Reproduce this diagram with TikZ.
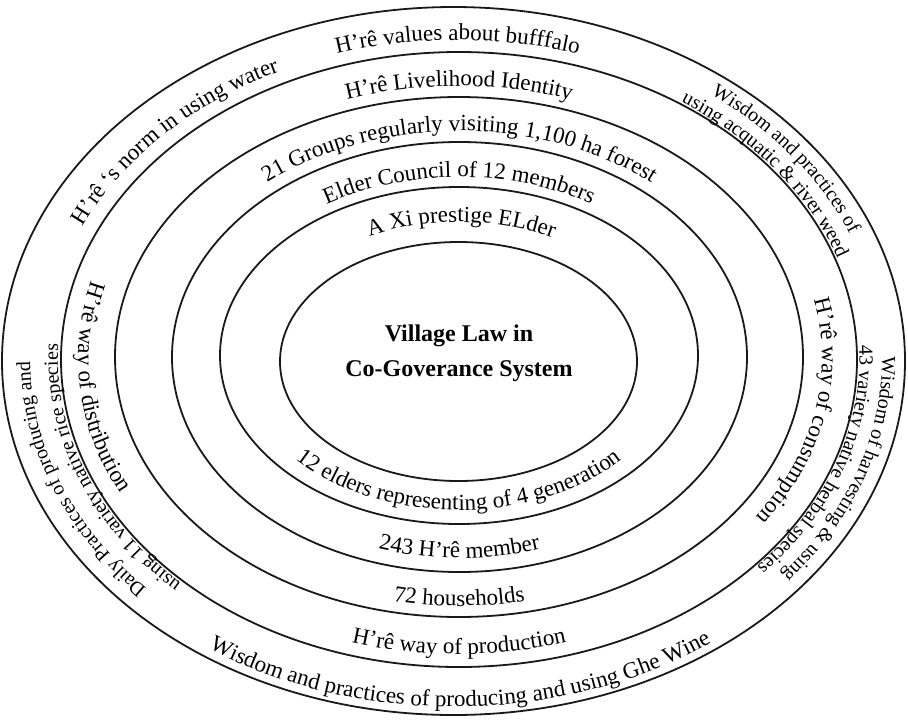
\documentclass[tikz,border=0pt]{standalone}
\usepackage{fontspec}
\setmainfont{Liberation Serif}
\usetikzlibrary{decorations.text}
\newcommand\bandfont{\fontsize{23}{27}\selectfont}
\newcommand\twofont{\fontsize{20}{22}\selectfont}
\tikzset{
  ring/.style={draw=black!90,line width=1.8pt},
  bandtext/.style={decorate,decoration={text along path,text align=center,
                   text={|\bandfont|#1}}},
  twotext/.style={decorate,decoration={text along path,text align=center,
                  text={|\twofont|#1}}},
  core/.style={align=center,inner sep=0pt,font=\fontsize{24}{35}\selectfont\bfseries},
}
\begin{document}
\begin{tikzpicture}[x=1pt,y=1pt]
  \useasboundingbox (0,0) rectangle (908,-724);
  % rings
  \draw[ring] (458.5,-361.5) ellipse[x radius=178.5pt,y radius=119.5pt];
  \draw[ring] (459,-355.5) ellipse[x radius=239pt,y radius=168.5pt];
  \draw[ring] (459.5,-357) ellipse[x radius=287.5pt,y radius=215pt];
  \draw[ring] (459,-357) ellipse[x radius=344pt,y radius=260pt];
  \draw[ring] (459,-359.5) ellipse[x radius=398pt,y radius=307.5pt];
  \draw[ring] (453.5,-361) ellipse[x radius=451.5pt,y radius=354pt];
  \node[core] (law) at (459,-353) {Village Law in\\Co-Goverance System};
  % top of the bands
  \path[bandtext={H’rê values about bufffalo}]
    ([shift={(130:412.3pt and 319.9pt)}]457.5,-359.9)
    arc[start angle=130,end angle=50,x radius=412.3pt,y radius=319.9pt];
  \path[bandtext={H’rê Livelihood Identity}]
    ([shift={(130:357.2pt and 271.6pt)}]459,-357.6)
    arc[start angle=130,end angle=50,x radius=357.2pt,y radius=271.6pt];
  \path[bandtext={21 Groups regularly visiting 1,100 ha forest}]
    ([shift={(155:301.3pt and 226pt)}]459.4,-357)
    arc[start angle=155,end angle=25,x radius=301.3pt,y radius=226pt];
  \path[bandtext={Elder Council of 12 members}]
    ([shift={(150:249.8pt and 178.8pt)}]459.1,-355.8)
    arc[start angle=150,end angle=30,x radius=249.8pt,y radius=178.8pt];
  \path[bandtext={A Xi prestige ELder}]
    ([shift={(150:200.5pt and 137.3pt)}]458.7,-359.3)
    arc[start angle=150,end angle=28,x radius=200.5pt,y radius=137.3pt];
  % bottom of the bands
  \path[bandtext={12 elders representing of 4 generation}]
    ([shift={(185:219.3pt and 152.5pt)}]458.8,-357.5)
    arc[start angle=185,end angle=355,x radius=219.3pt,y radius=152.5pt];
  \path[bandtext={243 H’rê member}]
    ([shift={(220:273.3pt and 201.4pt)}]459.4,-356.6)
    arc[start angle=220,end angle=320,x radius=273.3pt,y radius=201.4pt];
  \path[bandtext={72 households}]
    ([shift={(230:330.2pt and 249pt)}]459.2,-357)
    arc[start angle=230,end angle=310,x radius=330.2pt,y radius=249pt];
  \path[bandtext={H’rê way of production}]
    ([shift={(230:384pt and 295.2pt)}]459,-358.9)
    arc[start angle=230,end angle=310,x radius=384pt,y radius=295.2pt];
  \path[bandtext={Wisdom and practices of producing and using Ghe Wine}]
    ([shift={(215:442.6pt and 346.2pt)}]454.4,-360.7)
    arc[start angle=215,end angle=327,x radius=442.6pt,y radius=346.2pt];
  % sides
  \path[bandtext={H’rê way of distribution}]
    ([shift={(140.4:381pt and 292.5pt)}]459,-358.7)
    arc[start angle=140.4,end angle=230.4,x radius=381pt,y radius=292.5pt];
  \path[bandtext={H’rê way of consumption}]
    ([shift={(39.8:363pt and 276.7pt)}]459,-357.9)
    arc[start angle=39.8,end angle=-60.2,x radius=363pt,y radius=276.7pt];
  \path[bandtext={H’rê ‘s norm in using water}]
    ([shift={(172:412.3pt and 319.9pt)}]457.5,-359.9)
    arc[start angle=172,end angle=102,x radius=412.3pt,y radius=319.9pt];
  % two-line texts in the outer band
  \path[twotext={Wisdom and practices of}]
    ([shift={(71:425.8pt and 331.7pt)}]456.1,-360.3)
    arc[start angle=71,end angle=1,x radius=425.8pt,y radius=331.7pt];
  \path[twotext={using acquatic {\&} river weed}]
    ([shift={(71:400.7pt and 309.8pt)}]458.7,-359.6)
    arc[start angle=71,end angle=1,x radius=400.7pt,y radius=309.8pt];
  \path[twotext={Wisdom of harvesting {\&} using}]
    ([shift={(27:425.8pt and 331.7pt)}]456.1,-360.3)
    arc[start angle=27,end angle=-63,x radius=425.8pt,y radius=331.7pt];
  \path[twotext={43 variety native herbal species}]
    ([shift={(27:400.7pt and 309.8pt)}]458.7,-359.6)
    arc[start angle=27,end angle=-63,x radius=400.7pt,y radius=309.8pt];
  \path[twotext={Daily Practices of producing and}]
    ([shift={(245:425.8pt and 331.7pt)}]456.1,-360.3)
    arc[start angle=245,end angle=155,x radius=425.8pt,y radius=331.7pt];
  \path[twotext={using 11 variety native rice species}]
    ([shift={(245:400.7pt and 309.8pt)}]458.7,-359.6)
    arc[start angle=245,end angle=155,x radius=400.7pt,y radius=309.8pt];
\end{tikzpicture}
\end{document}
